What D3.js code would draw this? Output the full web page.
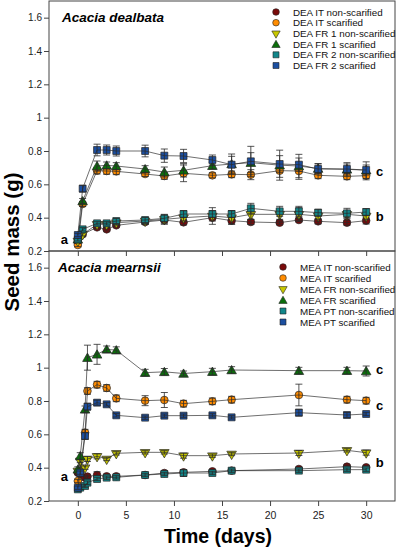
<!DOCTYPE html>
<html>
<head>
<meta charset="utf-8">
<script src="https://cdn.jsdelivr.net/npm/d3@7"></script>
<style>
  body { margin: 0; background: #fff; }
  svg { display: block; font-family: "Liberation Sans", Arial, sans-serif; }
</style>
</head>
<body>
<svg id="chart" width="398" height="550"></svg>
<script>
// ---- data ----
const yTicks = [0.2, 0.4, 0.6, 0.8, 1, 1.2, 1.4, 1.6];
const yTickLabels = ["0.2", "0.4", "0.6", "0.8", "1", "1.2", "1.4", "1.6"];
const xTicks = [0, 5, 10, 15, 20, 25, 30];
const xTickLabels = ["0", "5", "10", "15", "20", "25", "30"];

// Acacia dealbata
const deaDays = [0, 0.5, 2, 3, 4, 7, 9, 11, 14, 16, 18, 21, 23, 25, 28, 30];
const deaItNon = [0.26, 0.30, 0.342, 0.33, 0.354, 0.374, 0.386, 0.372, 0.40, 0.382, 0.374, 0.37, 0.386, 0.378, 0.37, 0.382];
const deaItNonErr = [0.01, 0.01, 0.01, 0.01, 0.01, 0.015, 0.02, 0.015, 0.02, 0.02, 0.015, 0.01, 0.01, 0.015, 0.015, 0.02];
const deaItSc = [0.236, 0.482, 0.682, 0.68, 0.678, 0.662, 0.65, 0.666, 0.654, 0.66, 0.658, 0.682, 0.68, 0.654, 0.648, 0.652];
const deaItScErr = [0.01, 0.015, 0.02, 0.02, 0.02, 0.015, 0.02, 0.05, 0.015, 0.02, 0.03, 0.04, 0.05, 0.02, 0.02, 0.025];
const deaFr1Non = [0.26, 0.30, 0.36, 0.36, 0.37, 0.38, 0.39, 0.40, 0.41, 0.40, 0.42, 0.42, 0.42, 0.41, 0.42, 0.41];
const deaFr1NonErr = [0.01, 0.01, 0.01, 0.01, 0.015, 0.02, 0.03, 0.02, 0.05, 0.04, 0.03, 0.03, 0.04, 0.02, 0.02, 0.02];
const deaFr1Sc = [0.27, 0.50, 0.71, 0.714, 0.71, 0.692, 0.674, 0.684, 0.712, 0.722, 0.73, 0.715, 0.71, 0.695, 0.69, 0.685];
const deaFr1ScErr = [0.01, 0.015, 0.03, 0.02, 0.02, 0.02, 0.03, 0.04, 0.02, 0.06, 0.06, 0.09, 0.07, 0.03, 0.04, 0.05];
const deaFr2Non = [0.27, 0.33, 0.366, 0.366, 0.38, 0.386, 0.396, 0.422, 0.422, 0.422, 0.456, 0.438, 0.438, 0.43, 0.426, 0.434];
const deaFr2NonErr = [0.01, 0.01, 0.01, 0.01, 0.015, 0.015, 0.02, 0.02, 0.02, 0.02, 0.03, 0.03, 0.03, 0.02, 0.03, 0.02];
const deaFr2Sc = [0.296, 0.574, 0.806, 0.806, 0.80, 0.80, 0.772, 0.77, 0.746, 0.718, 0.738, 0.722, 0.718, 0.692, 0.692, 0.686];
const deaFr2ScErr = [0.01, 0.02, 0.035, 0.03, 0.03, 0.035, 0.04, 0.04, 0.03, 0.05, 0.09, 0.05, 0.04, 0.03, 0.03, 0.03];

// Acacia mearnsii
const meaDays = [0, 0.25, 0.75, 1, 2, 3, 4, 7, 9, 11, 14, 16, 23, 28, 30];
const meaItNon = [0.37, 0.36, 0.34, 0.346, 0.356, 0.348, 0.348, 0.356, 0.368, 0.372, 0.378, 0.382, 0.392, 0.406, 0.402];
const meaItNonErr = [0.01, 0.01, 0.01, 0.01, 0.02, 0.01, 0.01, 0.01, 0.01, 0.01, 0.01, 0.01, 0.01, 0.01, 0.01];
const meaItSc = [0.32, 0.38, 0.61, 0.86, 0.898, 0.878, 0.816, 0.802, 0.806, 0.784, 0.798, 0.808, 0.836, 0.808, 0.802];
const meaItScErr = [0.01, 0.01, 0.02, 0.02, 0.02, 0.02, 0.02, 0.03, 0.045, 0.02, 0.02, 0.02, 0.065, 0.02, 0.02];
const meaFrNon = [0.38, 0.44, 0.40, 0.452, 0.468, 0.452, 0.486, 0.492, 0.492, 0.472, 0.472, 0.482, 0.488, 0.504, 0.49];
const meaFrNonErr = [0.01, 0.01, 0.01, 0.015, 0.015, 0.01, 0.01, 0.01, 0.01, 0.015, 0.01, 0.01, 0.015, 0.01, 0.015];
const meaFrSc = [0.39, 0.47, 0.75, 1.06, 1.08, 1.11, 1.105, 0.97, 0.975, 0.965, 0.976, 0.986, 0.982, 0.982, 0.98];
const meaFrScErr = [0.015, 0.02, 0.02, 0.075, 0.06, 0.02, 0.02, 0.02, 0.02, 0.015, 0.02, 0.02, 0.02, 0.02, 0.03];
const meaPtNon = [0.27, 0.28, 0.29, 0.31, 0.332, 0.34, 0.342, 0.356, 0.362, 0.368, 0.368, 0.382, 0.382, 0.388, 0.388];
const meaPtNonErr = [0.01, 0.01, 0.01, 0.01, 0.01, 0.01, 0.01, 0.01, 0.01, 0.02, 0.01, 0.01, 0.01, 0.01, 0.01];
const meaPtSc = [0.28, 0.37, 0.59, 0.766, 0.79, 0.78, 0.714, 0.70, 0.712, 0.712, 0.714, 0.702, 0.73, 0.716, 0.722];
const meaPtScErr = [0.01, 0.01, 0.02, 0.02, 0.015, 0.01, 0.01, 0.01, 0.01, 0.01, 0.01, 0.01, 0.02, 0.015, 0.01];

// group letters: [day, grams, letter]
const deaLetters = [[-1.4, 0.242, "a"], [31.4, 0.65, "c"], [31.4, 0.38, "b"]];
const meaLetters = [[-1.4, 0.32, "a"], [31.4, 0.965, "c"], [31.4, 0.749, "c"], [31.4, 0.406, "b"]];

// ---- styles ----
const cRed = "#7a0a0a", cOrange = "#ff8c00", cYellow = "#c8c800",
      cGreen = "#0b6e0b", cTeal = "#12878a", cBlue = "#1c4fa0";

const panels = [
  {
    top: 1, title: "Acacia dealbata", titleX: 62, days: deaDays, letters: deaLetters,
    legendX: 276, legendY: 12, legendStep: 10.7, labels: false,
    series: [
      { name: "DEA IT non-scarified", sym: d3.symbolCircle, color: cRed, v: deaItNon, e: deaItNonErr },
      { name: "DEA IT scarified", sym: d3.symbolCircle, color: cOrange, v: deaItSc, e: deaItScErr },
      { name: "DEA FR 1 non-scarified", sym: d3.symbolTriangle, flip: true, color: cYellow, v: deaFr1Non, e: deaFr1NonErr },
      { name: "DEA FR 1 scarified", sym: d3.symbolTriangle, color: cGreen, v: deaFr1Sc, e: deaFr1ScErr },
      { name: "DEA FR 2 non-scarified", sym: d3.symbolSquare, color: cTeal, v: deaFr2Non, e: deaFr2NonErr },
      { name: "DEA FR 2 scarified", sym: d3.symbolSquare, color: cBlue, v: deaFr2Sc, e: deaFr2ScErr }
    ]
  },
  {
    top: 251, title: "Acacia mearnsii", titleX: 58, days: meaDays, letters: meaLetters,
    legendX: 283, legendY: 267, legendStep: 11, labels: true,
    series: [
      { name: "MEA IT non-scarified", sym: d3.symbolCircle, color: cRed, v: meaItNon, e: meaItNonErr },
      { name: "MEA IT scarified", sym: d3.symbolCircle, color: cOrange, v: meaItSc, e: meaItScErr },
      { name: "MEA FR non-scarified", sym: d3.symbolTriangle, flip: true, color: cYellow, v: meaFrNon, e: meaFrNonErr },
      { name: "MEA FR scarified", sym: d3.symbolTriangle, color: cGreen, v: meaFrSc, e: meaFrScErr },
      { name: "MEA PT non-scarified", sym: d3.symbolSquare, color: cTeal, v: meaPtNon, e: meaPtNonErr },
      { name: "MEA PT scarified", sym: d3.symbolSquare, color: cBlue, v: meaPtSc, e: meaPtScErr }
    ]
  }
];

const svg = d3.select("#chart");
const left = 49, right = 395, panelH = 250;
const axisColor = "#444", lineColor = "#2a2a2a";

const x = d3.scaleLinear().domain([-3, 33]).range([left, right]);

function symSize(s) {
  return s.sym === d3.symbolCircle ? 46 : s.sym === d3.symbolSquare ? 48 : 40;
}

panels.forEach(p => {
  const y = d3.scaleLinear().domain([0.2, 1.7]).range([p.top + panelH, p.top]);
  const g = svg.append("g");

  // box
  g.append("rect")
    .attr("x", left).attr("y", p.top)
    .attr("width", right - left).attr("height", panelH)
    .attr("fill", "none").attr("stroke", axisColor).attr("stroke-width", 1);

  // y axis
  const ya = g.append("g")
    .attr("transform", `translate(${left},0)`)
    .call(d3.axisLeft(y).tickValues(yTicks).tickFormat((d, i) => yTickLabels[i]).tickSize(5).tickPadding(2));
  ya.select(".domain").remove();
  ya.selectAll("line").attr("stroke", axisColor);
  ya.selectAll("text").attr("font-size", 10).attr("fill", "#222")
    .attr("font-family", "Liberation Sans, Arial, sans-serif");

  // x axis
  const xa = g.append("g")
    .attr("transform", `translate(0,${p.top + panelH})`)
    .call(d3.axisBottom(x).tickValues(xTicks).tickFormat((d, i) => p.labels ? xTickLabels[i] : "").tickSize(5).tickPadding(6));
  xa.select(".domain").remove();
  xa.selectAll("line").attr("stroke", axisColor);
  xa.selectAll("text").attr("font-size", 10.5).attr("fill", "#222")
    .attr("font-family", "Liberation Sans, Arial, sans-serif");

  // title
  g.append("text")
    .attr("x", p.titleX).attr("y", p.top + 20.5)
    .attr("font-size", 13.5).attr("font-weight", "bold").attr("font-style", "italic")
    .text(p.title);

  const line = d3.line().x((d, i) => x(p.days[i])).y(d => y(d));

  p.series.forEach(s => {
    const pts = s.v.map((v, i) => ({ t: p.days[i], v: v, e: s.e[i] }));
    const sg = g.append("g");

    sg.selectAll("path.mk").data(pts).enter().append("path")
      .attr("class", "mk")
      .attr("d", d3.symbol(s.sym, symSize(s)))
      .attr("transform", d => `translate(${x(d.t)},${y(d.v)})` + (s.flip ? " rotate(180)" : s.sym === d3.symbolTriangle ? " translate(0,1)" : ""))
      .attr("fill", s.color).attr("stroke", "#222").attr("stroke-width", 0.7);

    sg.append("path").datum(s.v)
      .attr("d", line).attr("fill", "none")
      .attr("stroke", lineColor).attr("stroke-width", 0.8).attr("opacity", 0.85);

    const eb = sg.selectAll("g.eb").data(pts).enter().append("g")
      .attr("stroke", lineColor).attr("stroke-width", 0.8);
    eb.append("line")
      .attr("x1", d => x(d.t)).attr("x2", d => x(d.t))
      .attr("y1", d => y(d.v - d.e)).attr("y2", d => y(d.v + d.e));
    eb.append("line")
      .attr("x1", d => x(d.t) - 3.5).attr("x2", d => x(d.t) + 3.5)
      .attr("y1", d => y(d.v + d.e)).attr("y2", d => y(d.v + d.e));
    eb.append("line")
      .attr("x1", d => x(d.t) - 3.5).attr("x2", d => x(d.t) + 3.5)
      .attr("y1", d => y(d.v - d.e)).attr("y2", d => y(d.v - d.e));
  });

  // group letters
  g.selectAll("text.lt").data(p.letters).enter().append("text")
    .attr("class", "lt")
    .attr("x", d => x(d[0])).attr("y", d => y(d[1]))
    .attr("text-anchor", "middle")
    .attr("font-size", 13).attr("font-weight", "bold")
    .text(d => d[2]);

  // legend
  const lg = g.append("g").attr("transform", `translate(${p.legendX},${p.legendY})`);
  p.series.forEach((s, i) => {
    const row = lg.append("g").attr("transform", `translate(0,${i * p.legendStep})`);
    row.append("path")
      .attr("d", d3.symbol(s.sym, symSize(s) * 0.75))
      .attr("transform", s.flip ? "rotate(180)" : s.sym === d3.symbolTriangle ? "translate(0,1)" : null)
      .attr("fill", s.color).attr("stroke", "#222").attr("stroke-width", 0.6);
    row.append("text")
      .attr("x", 17).attr("y", 3.5)
      .attr("font-size", 9.8).attr("fill", "#111")
      .text(s.name);
  });
});

// axis titles
svg.append("text")
  .attr("transform", "translate(19,242) rotate(-90)")
  .attr("text-anchor", "middle")
  .attr("font-size", 20.5).attr("font-weight", "bold")
  .text("Seed mass (g)");

svg.append("text")
  .attr("x", 218).attr("y", 543)
  .attr("text-anchor", "middle")
  .attr("font-size", 19.5).attr("font-weight", "bold")
  .text("Time (days)");
</script>
</body>
</html>
